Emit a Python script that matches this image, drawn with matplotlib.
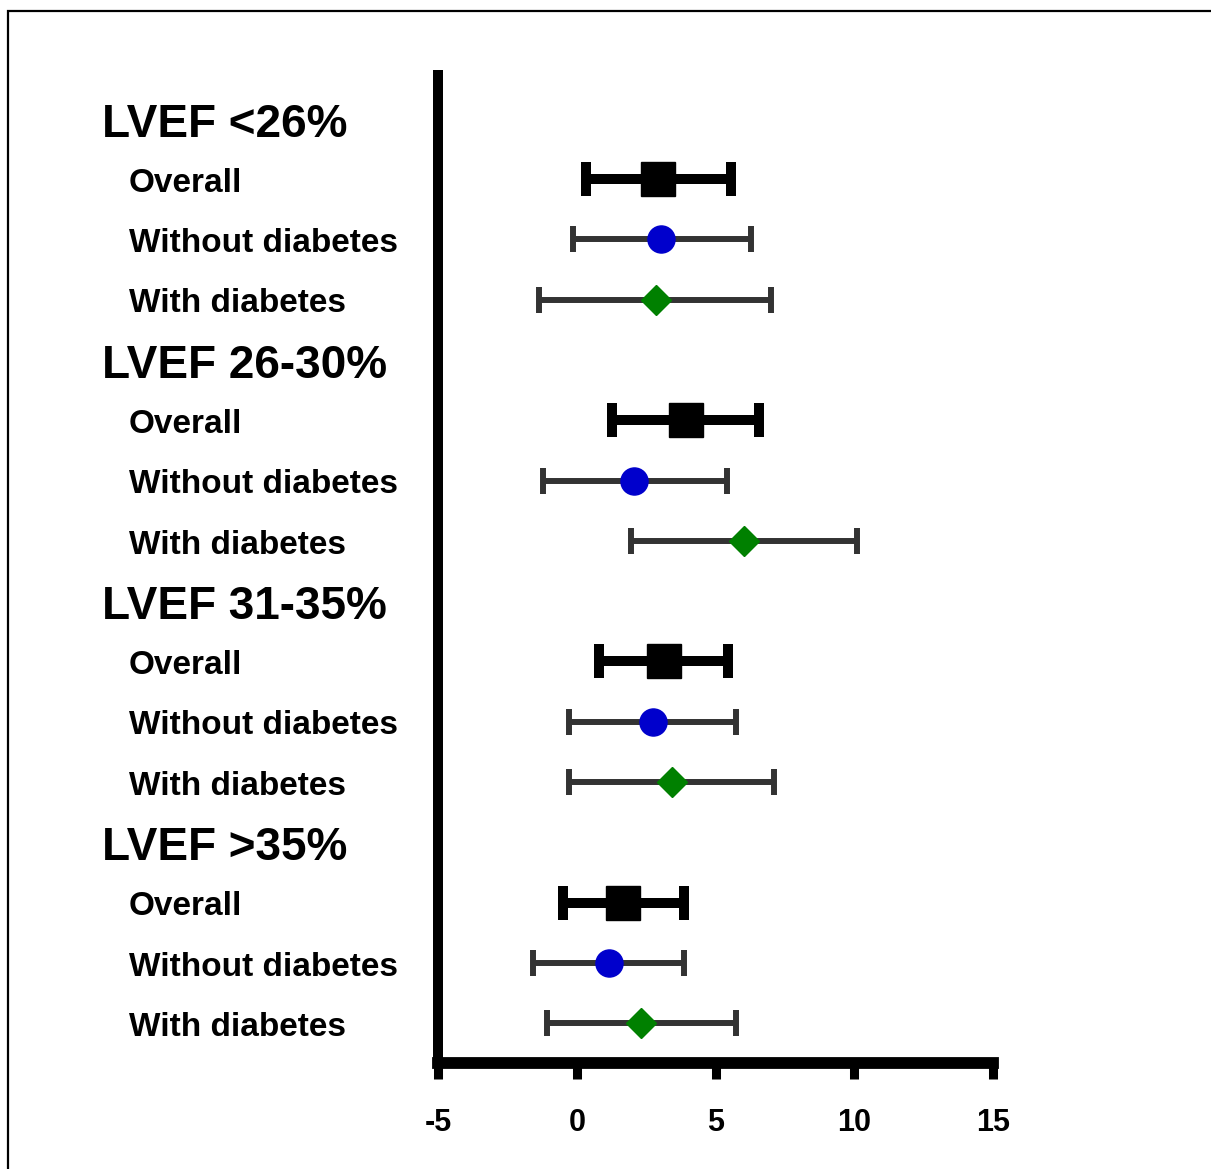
import matplotlib
matplotlib.use("Agg")
import matplotlib.pyplot as plt
from matplotlib.patches import Rectangle
import matplotlib.transforms as mtransforms

plt.rcParams['font.family'] = ['Liberation Sans', 'DejaVu Sans']

groups = ["LVEF <26%", "LVEF 26-30%", "LVEF 31-35%", "LVEF >35%"]
rows = ["Overall", "Without diabetes", "With diabetes"]

# estimates [group][row]
est = [[2.92, 3.03, 2.85],
       [3.93, 2.05, 6.02],
       [3.14, 2.74, 3.42],
       [1.66, 1.15, 2.31]]
lo = [[0.32, -0.14, -1.37],
      [1.26, -1.23, 1.95],
      [0.79, -0.29, -0.29],
      [-0.50, -1.59, -1.08]]
hi = [[5.55, 6.27, 7.00],
      [6.56, 5.40, 10.09],
      [5.44, 5.73, 7.10],
      [3.86, 3.86, 5.73]]

xticks = [-5, 0, 5, 10, 15]

W, H = 1211, 1169
fig = plt.figure(figsize=(W / 100, H / 100), dpi=100)

# outer frame
fig.patches.append(Rectangle((8 / W, -0.1), 1.2, (H - 11) / H + 0.1,
                             transform=fig.transFigure, fill=False,
                             edgecolor='black', linewidth=1.6))

ax = fig.add_axes([438 / W, 106 / H, (993 - 438) / W, (1099 - 106) / H])
ax.set_xlim(-5, 15)
ax.set_ylim(15.66, -0.81)

styles = [
    dict(marker='s', ms=24.5, mfc='black', mec='black', color='black',
         elw=7.2, capsize=12.2, capthick=7.2),
    dict(marker='o', ms=19.5, mfc='#0000CC', mec='#0000CC', color='#333333',
         elw=4.3, capsize=9.3, capthick=4.3),
    dict(marker='D', ms=14.8, mfc='#008000', mec='#008000', color='#333333',
         elw=4.3, capsize=9.3, capthick=4.3),
]

trans = mtransforms.blended_transform_factory(fig.transFigure, ax.transData)

for g, gname in enumerate(groups):
    base = g * 4
    ax.text(102 / W, base + 0.3, gname, transform=trans, fontsize=33,
            fontweight='bold', ha='left', va='baseline', clip_on=False)
    for r, rname in enumerate(rows):
        y = base + r + 1
        st = styles[r]
        e = est[g][r]
        ax.errorbar([e], [y], xerr=[[e - lo[g][r]], [hi[g][r] - e]],
                    fmt='none', ecolor=st['color'], elinewidth=st['elw'],
                    capsize=st['capsize'], capthick=st['capthick'], zorder=2)
        ax.plot([e], [y], marker=st['marker'], ms=st['ms'], mfc=st['mfc'],
                mec=st['mec'], linestyle='none', zorder=3)
        ax.text(129 / W, y + 0.21, rname, transform=trans, fontsize=24,
                fontweight='bold', ha='left', va='baseline', clip_on=False)

ax.set_xticks(xticks)
ax.set_xticklabels([str(t) for t in xticks], fontsize=22, fontweight='bold')
ax.set_yticks([])
ax.spines['top'].set_visible(False)
ax.spines['right'].set_visible(False)
ax.spines['left'].set_linewidth(7.2)
ax.spines['bottom'].set_linewidth(8.5)
ax.spines['left'].set_capstyle('butt')
ax.spines['bottom'].set_capstyle('projecting')
ax.tick_params(axis='x', length=11.5, width=6.5, pad=21, direction='out')

fig.savefig("out.png", dpi=100)
